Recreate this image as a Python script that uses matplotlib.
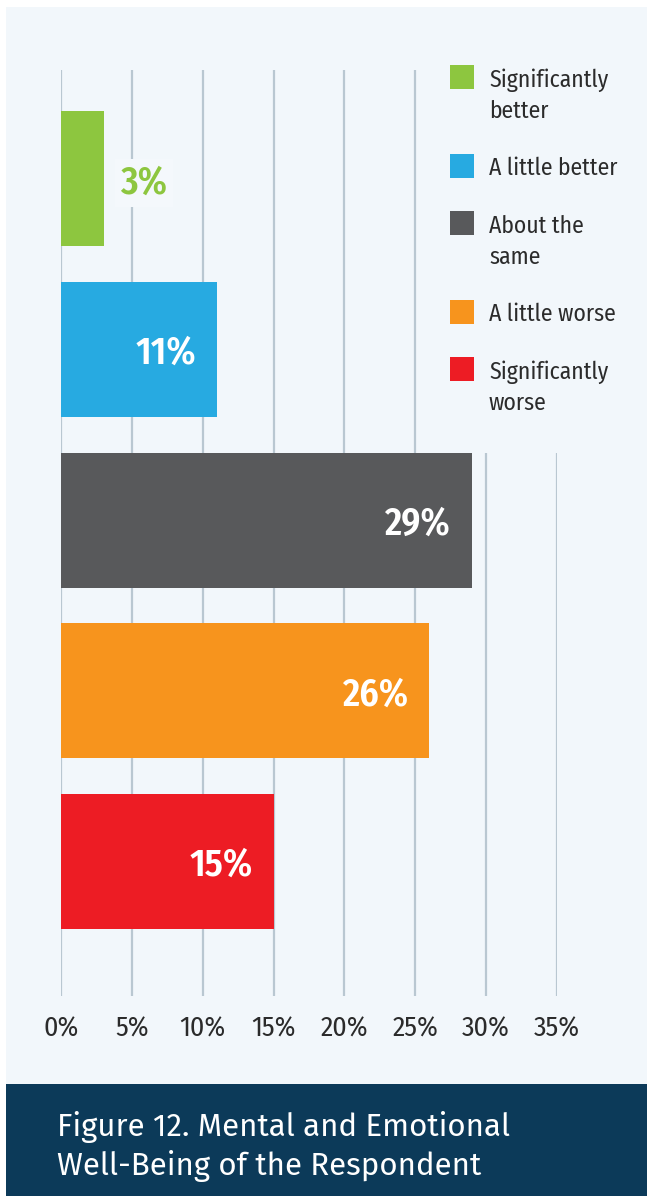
import matplotlib
matplotlib.use("Agg")
import matplotlib.pyplot as plt
from matplotlib.patches import Rectangle

# Survey responses
categories = ["Significantly\nbetter", "A little better", "About the\nsame",
              "A little worse", "Significantly\nworse"]
values = [3, 11, 29, 26, 15]
colors = ["#8dc63f", "#27aae1", "#58595b", "#f7941d", "#ed1c24"]
xticks = [0, 5, 10, 15, 20, 25, 30, 35]
xtick_labels = [f"{t}%" for t in xticks]
title = "Figure 12. Mental and Emotional\nWell-Being of the Respondent"

W, H = 647, 1196
PANEL = "#f2f7fb"
NAVY = "#0c3a59"
GRID = "#b9c7d1"
TEXT = "#2b2b2b"
COND = ["Fira Sans Condensed", "DejaVu Sans"]
SANS = ["Fira Sans", "DejaVu Sans"]


def fx(px):
    return px / W


def fy(py):
    return 1 - py / H


fig = plt.figure(figsize=(W / 100, H / 100), dpi=100, facecolor="white")

# light chart panel and navy caption band
fig.patches.append(Rectangle((fx(6), fy(1084)), 1 - fx(6), fy(7) - fy(1084),
                             transform=fig.transFigure, facecolor=PANEL,
                             edgecolor="none", zorder=-2))
fig.patches.append(Rectangle((fx(6), 0), 1 - fx(6), fy(1084),
                             transform=fig.transFigure, facecolor=NAVY,
                             edgecolor="none", zorder=-2))

ax = fig.add_axes([fx(61), fy(996), fx(557) - fx(61), fy(70) - fy(996)])
ax.set_facecolor("none")
ax.set_zorder(1)

bar_h = 0.79
ypos = list(range(len(values)))
y_top, y_bottom = -0.638, len(values) - 1 + 0.788
ax.set_xlim(xticks[0], xticks[-1])
ax.set_ylim(y_bottom, y_top)

# vertical grid; the rightmost lines stop below the legend
legend_edge = 27
for t in xticks:
    start = y_top if t < legend_edge else ypos[2] - bar_h / 2
    ax.vlines(t, start, y_bottom, color=GRID, lw=1.6, zorder=1)

ax.barh(ypos, values, height=bar_h, color=colors, zorder=2)

for y, v, c in zip(ypos, values, colors):
    if v >= 5:
        ax.annotate(f"{v}%", xy=(v, y), xytext=(-15, 0), textcoords="offset points",
                    ha="right", va="center_baseline", color="white", fontsize=27,
                    fontweight="semibold", family=COND, zorder=3)
    else:
        ax.annotate(f"{v}%", xy=(v, y), xytext=(12, 0), textcoords="offset points",
                    ha="left", va="center_baseline", color=c, fontsize=27,
                    fontweight="semibold", family=COND, zorder=3,
                    bbox=dict(boxstyle="square,pad=0.15", facecolor="#f4f8fc",
                              edgecolor="none"))

ax.set_xticks(xticks)
ax.set_xticklabels(xtick_labels, family=COND, fontsize=20, color=TEXT)
ax.set_yticks([])
ax.tick_params(axis="x", length=0, pad=14)
for s in ax.spines.values():
    s.set_visible(False)

# legend: square swatch beside the first line of each label
line_step = 32
top = 65
for label, c in zip(categories, colors):
    extra = label.count("\n")
    fig.patches.append(Rectangle((fx(450), fy(top + 24)), fx(24), 24 / H,
                                 transform=fig.transFigure, facecolor=c,
                                 edgecolor="none", zorder=2))
    # baseline alignment of multi-line text refers to the last line
    fig.text(fx(489), fy(top + 21 + line_step * extra), label, va="baseline",
             ha="left", fontsize=17, family=COND, color=TEXT, linespacing=1.44)
    top += 57 + line_step * extra

fig.text(fx(57), fy(1174.5), title, va="baseline", ha="left", color="white",
         fontsize=22.5, family=SANS, linespacing=1.26)

fig.savefig("out.png", dpi=100, facecolor="white")
